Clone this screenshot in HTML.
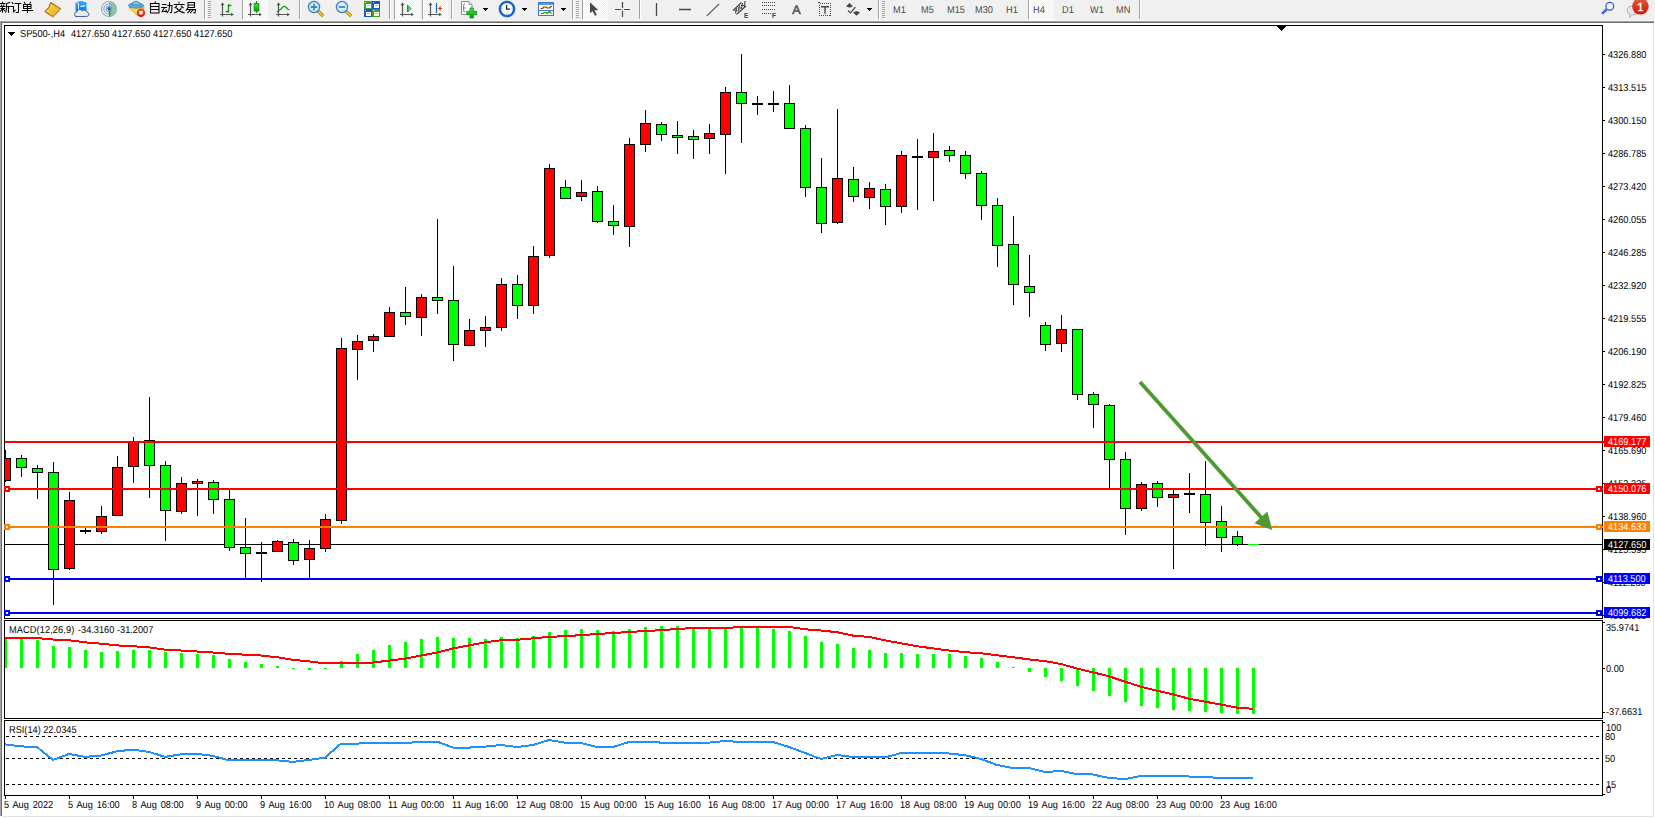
<!DOCTYPE html>
<html><head><meta charset="utf-8"><title>SP500-,H4</title>
<style>
html,body{margin:0;padding:0;background:#fff;}
body{width:1655px;height:818px;position:relative;overflow:hidden;font-family:"Liberation Sans",sans-serif;}
#chart{position:absolute;left:0;top:0;}
.t{position:absolute;font-size:10px;line-height:10px;height:10px;white-space:nowrap;margin-top:0px;transform:scaleX(0.92);transform-origin:0 0;text-rendering:geometricPrecision;}
.pb{position:absolute;left:1604px;width:46px;height:11px;}
#tb{position:absolute;left:0;top:0;width:1655px;height:20px;background:#f0f0f0;}
#tbsvg{position:absolute;left:0;top:0;}
.p{position:absolute;top:5px;font-size:9.5px;line-height:10px;color:#4c4c4c;white-space:nowrap;}
</style></head>
<body>
<svg id="chart" width="1655" height="818" viewBox="0 0 1655 818" shape-rendering="crispEdges">
<rect x="4" y="25" width="1599" height="1" fill="#000"/>
<rect x="4" y="25" width="1" height="594" fill="#000"/>
<rect x="1602" y="25" width="1" height="594" fill="#000"/>
<rect x="1602" y="620" width="1" height="99" fill="#000"/>
<rect x="1602" y="720" width="1" height="76" fill="#000"/>
<rect x="4" y="618" width="1599" height="1" fill="#000"/>
<rect x="4" y="620" width="1599" height="1" fill="#000"/>
<rect x="4" y="620" width="1" height="99" fill="#000"/>
<rect x="4" y="718" width="1599" height="1" fill="#000"/>
<rect x="4" y="720" width="1599" height="1" fill="#000"/>
<rect x="4" y="720" width="1" height="76" fill="#000"/>
<rect x="4" y="795" width="1599" height="1" fill="#000"/>
<rect x="1277" y="26" width="9" height="1" fill="#000"/>
<rect x="1278" y="27" width="7" height="1" fill="#000"/>
<rect x="1279" y="28" width="5" height="1" fill="#000"/>
<rect x="1280" y="29" width="3" height="1" fill="#000"/>
<rect x="1281" y="30" width="1" height="1" fill="#000"/>
<defs><clipPath id="cp"><rect x="5" y="26" width="1597" height="770"/></clipPath></defs><g clip-path="url(#cp)">
<rect x="8" y="32" width="7" height="1" fill="#000"/>
<rect x="9" y="33" width="5" height="1" fill="#000"/>
<rect x="10" y="34" width="3" height="1" fill="#000"/>
<rect x="11" y="35" width="1" height="1" fill="#000"/>
<rect x="5" y="544" width="1598" height="1" fill="#000"/>
<rect x="5" y="450" width="1" height="32" fill="#000"/>
<rect x="0" y="458" width="11" height="23" fill="#000"/>
<rect x="1" y="459" width="9" height="21" fill="#ff0000"/>
<rect x="21" y="455" width="1" height="22" fill="#000"/>
<rect x="16" y="458" width="11" height="10" fill="#000"/>
<rect x="17" y="459" width="9" height="8" fill="#00ff00"/>
<rect x="37" y="465" width="1" height="34" fill="#000"/>
<rect x="32" y="468" width="11" height="5" fill="#000"/>
<rect x="33" y="469" width="9" height="3" fill="#00ff00"/>
<rect x="53" y="462" width="1" height="143" fill="#000"/>
<rect x="48" y="472" width="11" height="98" fill="#000"/>
<rect x="49" y="473" width="9" height="96" fill="#00ff00"/>
<rect x="69" y="492" width="1" height="78" fill="#000"/>
<rect x="64" y="500" width="11" height="69" fill="#000"/>
<rect x="65" y="501" width="9" height="67" fill="#ff0000"/>
<rect x="85" y="528" width="1" height="6" fill="#000"/>
<rect x="80" y="530" width="11" height="2" fill="#000"/>
<rect x="101" y="506" width="1" height="28" fill="#000"/>
<rect x="96" y="516" width="11" height="16" fill="#000"/>
<rect x="97" y="517" width="9" height="14" fill="#ff0000"/>
<rect x="117" y="456" width="1" height="60" fill="#000"/>
<rect x="112" y="467" width="11" height="49" fill="#000"/>
<rect x="113" y="468" width="9" height="47" fill="#ff0000"/>
<rect x="133" y="437" width="1" height="46" fill="#000"/>
<rect x="128" y="441" width="11" height="26" fill="#000"/>
<rect x="129" y="442" width="9" height="24" fill="#ff0000"/>
<rect x="149" y="397" width="1" height="101" fill="#000"/>
<rect x="144" y="440" width="11" height="26" fill="#000"/>
<rect x="145" y="441" width="9" height="24" fill="#00ff00"/>
<rect x="165" y="461" width="1" height="80" fill="#000"/>
<rect x="160" y="465" width="11" height="46" fill="#000"/>
<rect x="161" y="466" width="9" height="44" fill="#00ff00"/>
<rect x="181" y="477" width="1" height="37" fill="#000"/>
<rect x="176" y="483" width="11" height="29" fill="#000"/>
<rect x="177" y="484" width="9" height="27" fill="#ff0000"/>
<rect x="197" y="479" width="1" height="37" fill="#000"/>
<rect x="192" y="481" width="11" height="3" fill="#000"/>
<rect x="193" y="482" width="9" height="1" fill="#ff0000"/>
<rect x="213" y="480" width="1" height="34" fill="#000"/>
<rect x="208" y="482" width="11" height="18" fill="#000"/>
<rect x="209" y="483" width="9" height="16" fill="#00ff00"/>
<rect x="229" y="490" width="1" height="61" fill="#000"/>
<rect x="224" y="499" width="11" height="49" fill="#000"/>
<rect x="225" y="500" width="9" height="47" fill="#00ff00"/>
<rect x="245" y="518" width="1" height="60" fill="#000"/>
<rect x="240" y="547" width="11" height="7" fill="#000"/>
<rect x="241" y="548" width="9" height="5" fill="#00ff00"/>
<rect x="261" y="542" width="1" height="40" fill="#000"/>
<rect x="256" y="552" width="11" height="2" fill="#000"/>
<rect x="277" y="540" width="1" height="12" fill="#000"/>
<rect x="272" y="541" width="11" height="11" fill="#000"/>
<rect x="273" y="542" width="9" height="9" fill="#ff0000"/>
<rect x="293" y="539" width="1" height="26" fill="#000"/>
<rect x="288" y="542" width="11" height="19" fill="#000"/>
<rect x="289" y="543" width="9" height="17" fill="#00ff00"/>
<rect x="309" y="540" width="1" height="38" fill="#000"/>
<rect x="304" y="548" width="11" height="12" fill="#000"/>
<rect x="305" y="549" width="9" height="10" fill="#ff0000"/>
<rect x="325" y="514" width="1" height="38" fill="#000"/>
<rect x="320" y="519" width="11" height="30" fill="#000"/>
<rect x="321" y="520" width="9" height="28" fill="#ff0000"/>
<rect x="341" y="338" width="1" height="186" fill="#000"/>
<rect x="336" y="348" width="11" height="173" fill="#000"/>
<rect x="337" y="349" width="9" height="171" fill="#ff0000"/>
<rect x="357" y="335" width="1" height="45" fill="#000"/>
<rect x="352" y="341" width="11" height="9" fill="#000"/>
<rect x="353" y="342" width="9" height="7" fill="#ff0000"/>
<rect x="373" y="334" width="1" height="18" fill="#000"/>
<rect x="368" y="336" width="11" height="5" fill="#000"/>
<rect x="369" y="337" width="9" height="3" fill="#ff0000"/>
<rect x="389" y="307" width="1" height="30" fill="#000"/>
<rect x="384" y="312" width="11" height="25" fill="#000"/>
<rect x="385" y="313" width="9" height="23" fill="#ff0000"/>
<rect x="405" y="287" width="1" height="38" fill="#000"/>
<rect x="400" y="312" width="11" height="5" fill="#000"/>
<rect x="401" y="313" width="9" height="3" fill="#00ff00"/>
<rect x="421" y="294" width="1" height="42" fill="#000"/>
<rect x="416" y="297" width="11" height="21" fill="#000"/>
<rect x="417" y="298" width="9" height="19" fill="#ff0000"/>
<rect x="437" y="219" width="1" height="95" fill="#000"/>
<rect x="432" y="297" width="11" height="4" fill="#000"/>
<rect x="433" y="298" width="9" height="2" fill="#00ff00"/>
<rect x="453" y="266" width="1" height="95" fill="#000"/>
<rect x="448" y="300" width="11" height="45" fill="#000"/>
<rect x="449" y="301" width="9" height="43" fill="#00ff00"/>
<rect x="469" y="319" width="1" height="27" fill="#000"/>
<rect x="464" y="330" width="11" height="16" fill="#000"/>
<rect x="465" y="331" width="9" height="14" fill="#ff0000"/>
<rect x="485" y="316" width="1" height="31" fill="#000"/>
<rect x="480" y="327" width="11" height="4" fill="#000"/>
<rect x="481" y="328" width="9" height="2" fill="#ff0000"/>
<rect x="501" y="278" width="1" height="53" fill="#000"/>
<rect x="496" y="284" width="11" height="44" fill="#000"/>
<rect x="497" y="285" width="9" height="42" fill="#ff0000"/>
<rect x="517" y="275" width="1" height="44" fill="#000"/>
<rect x="512" y="284" width="11" height="22" fill="#000"/>
<rect x="513" y="285" width="9" height="20" fill="#00ff00"/>
<rect x="533" y="246" width="1" height="68" fill="#000"/>
<rect x="528" y="256" width="11" height="50" fill="#000"/>
<rect x="529" y="257" width="9" height="48" fill="#ff0000"/>
<rect x="549" y="164" width="1" height="94" fill="#000"/>
<rect x="544" y="168" width="11" height="88" fill="#000"/>
<rect x="545" y="169" width="9" height="86" fill="#ff0000"/>
<rect x="565" y="180" width="1" height="19" fill="#000"/>
<rect x="560" y="187" width="11" height="12" fill="#000"/>
<rect x="561" y="188" width="9" height="10" fill="#00ff00"/>
<rect x="581" y="180" width="1" height="21" fill="#000"/>
<rect x="576" y="192" width="11" height="5" fill="#000"/>
<rect x="577" y="193" width="9" height="3" fill="#ff0000"/>
<rect x="597" y="186" width="1" height="37" fill="#000"/>
<rect x="592" y="191" width="11" height="31" fill="#000"/>
<rect x="593" y="192" width="9" height="29" fill="#00ff00"/>
<rect x="613" y="205" width="1" height="30" fill="#000"/>
<rect x="608" y="221" width="11" height="5" fill="#000"/>
<rect x="609" y="222" width="9" height="3" fill="#00ff00"/>
<rect x="629" y="138" width="1" height="109" fill="#000"/>
<rect x="624" y="144" width="11" height="83" fill="#000"/>
<rect x="625" y="145" width="9" height="81" fill="#ff0000"/>
<rect x="645" y="110" width="1" height="42" fill="#000"/>
<rect x="640" y="123" width="11" height="22" fill="#000"/>
<rect x="641" y="124" width="9" height="20" fill="#ff0000"/>
<rect x="661" y="122" width="1" height="19" fill="#000"/>
<rect x="656" y="124" width="11" height="11" fill="#000"/>
<rect x="657" y="125" width="9" height="9" fill="#00ff00"/>
<rect x="677" y="121" width="1" height="33" fill="#000"/>
<rect x="672" y="135" width="11" height="3" fill="#000"/>
<rect x="673" y="136" width="9" height="1" fill="#00ff00"/>
<rect x="693" y="130" width="1" height="29" fill="#000"/>
<rect x="688" y="136" width="11" height="4" fill="#000"/>
<rect x="689" y="137" width="9" height="2" fill="#00ff00"/>
<rect x="709" y="124" width="1" height="30" fill="#000"/>
<rect x="704" y="133" width="11" height="6" fill="#000"/>
<rect x="705" y="134" width="9" height="4" fill="#ff0000"/>
<rect x="725" y="87" width="1" height="87" fill="#000"/>
<rect x="720" y="92" width="11" height="43" fill="#000"/>
<rect x="721" y="93" width="9" height="41" fill="#ff0000"/>
<rect x="741" y="54" width="1" height="89" fill="#000"/>
<rect x="736" y="92" width="11" height="12" fill="#000"/>
<rect x="737" y="93" width="9" height="10" fill="#00ff00"/>
<rect x="757" y="96" width="1" height="19" fill="#000"/>
<rect x="752" y="103" width="11" height="2" fill="#000"/>
<rect x="773" y="91" width="1" height="21" fill="#000"/>
<rect x="768" y="103" width="11" height="2" fill="#000"/>
<rect x="789" y="85" width="1" height="44" fill="#000"/>
<rect x="784" y="103" width="11" height="26" fill="#000"/>
<rect x="785" y="104" width="9" height="24" fill="#00ff00"/>
<rect x="805" y="125" width="1" height="72" fill="#000"/>
<rect x="800" y="128" width="11" height="60" fill="#000"/>
<rect x="801" y="129" width="9" height="58" fill="#00ff00"/>
<rect x="821" y="158" width="1" height="75" fill="#000"/>
<rect x="816" y="187" width="11" height="37" fill="#000"/>
<rect x="817" y="188" width="9" height="35" fill="#00ff00"/>
<rect x="837" y="109" width="1" height="115" fill="#000"/>
<rect x="832" y="178" width="11" height="45" fill="#000"/>
<rect x="833" y="179" width="9" height="43" fill="#ff0000"/>
<rect x="853" y="167" width="1" height="35" fill="#000"/>
<rect x="848" y="179" width="11" height="18" fill="#000"/>
<rect x="849" y="180" width="9" height="16" fill="#00ff00"/>
<rect x="869" y="182" width="1" height="27" fill="#000"/>
<rect x="864" y="188" width="11" height="10" fill="#000"/>
<rect x="865" y="189" width="9" height="8" fill="#ff0000"/>
<rect x="885" y="184" width="1" height="41" fill="#000"/>
<rect x="880" y="189" width="11" height="18" fill="#000"/>
<rect x="881" y="190" width="9" height="16" fill="#00ff00"/>
<rect x="901" y="151" width="1" height="62" fill="#000"/>
<rect x="896" y="155" width="11" height="52" fill="#000"/>
<rect x="897" y="156" width="9" height="50" fill="#ff0000"/>
<rect x="917" y="139" width="1" height="71" fill="#000"/>
<rect x="912" y="156" width="11" height="2" fill="#000"/>
<rect x="933" y="133" width="1" height="68" fill="#000"/>
<rect x="928" y="151" width="11" height="7" fill="#000"/>
<rect x="929" y="152" width="9" height="5" fill="#ff0000"/>
<rect x="949" y="146" width="1" height="16" fill="#000"/>
<rect x="944" y="150" width="11" height="6" fill="#000"/>
<rect x="945" y="151" width="9" height="4" fill="#00ff00"/>
<rect x="965" y="151" width="1" height="28" fill="#000"/>
<rect x="960" y="155" width="11" height="19" fill="#000"/>
<rect x="961" y="156" width="9" height="17" fill="#00ff00"/>
<rect x="981" y="171" width="1" height="49" fill="#000"/>
<rect x="976" y="173" width="11" height="33" fill="#000"/>
<rect x="977" y="174" width="9" height="31" fill="#00ff00"/>
<rect x="997" y="198" width="1" height="69" fill="#000"/>
<rect x="992" y="205" width="11" height="41" fill="#000"/>
<rect x="993" y="206" width="9" height="39" fill="#00ff00"/>
<rect x="1013" y="216" width="1" height="89" fill="#000"/>
<rect x="1008" y="244" width="11" height="41" fill="#000"/>
<rect x="1009" y="245" width="9" height="39" fill="#00ff00"/>
<rect x="1029" y="255" width="1" height="62" fill="#000"/>
<rect x="1024" y="286" width="11" height="7" fill="#000"/>
<rect x="1025" y="287" width="9" height="5" fill="#00ff00"/>
<rect x="1045" y="322" width="1" height="29" fill="#000"/>
<rect x="1040" y="325" width="11" height="20" fill="#000"/>
<rect x="1041" y="326" width="9" height="18" fill="#00ff00"/>
<rect x="1061" y="315" width="1" height="37" fill="#000"/>
<rect x="1056" y="329" width="11" height="15" fill="#000"/>
<rect x="1057" y="330" width="9" height="13" fill="#ff0000"/>
<rect x="1077" y="329" width="1" height="71" fill="#000"/>
<rect x="1072" y="329" width="11" height="66" fill="#000"/>
<rect x="1073" y="330" width="9" height="64" fill="#00ff00"/>
<rect x="1093" y="392" width="1" height="36" fill="#000"/>
<rect x="1088" y="394" width="11" height="11" fill="#000"/>
<rect x="1089" y="395" width="9" height="9" fill="#00ff00"/>
<rect x="1109" y="404" width="1" height="84" fill="#000"/>
<rect x="1104" y="405" width="11" height="55" fill="#000"/>
<rect x="1105" y="406" width="9" height="53" fill="#00ff00"/>
<rect x="1125" y="452" width="1" height="83" fill="#000"/>
<rect x="1120" y="459" width="11" height="50" fill="#000"/>
<rect x="1121" y="460" width="9" height="48" fill="#00ff00"/>
<rect x="1141" y="482" width="1" height="29" fill="#000"/>
<rect x="1136" y="484" width="11" height="25" fill="#000"/>
<rect x="1137" y="485" width="9" height="23" fill="#ff0000"/>
<rect x="1157" y="481" width="1" height="26" fill="#000"/>
<rect x="1152" y="483" width="11" height="15" fill="#000"/>
<rect x="1153" y="484" width="9" height="13" fill="#00ff00"/>
<rect x="1173" y="490" width="1" height="79" fill="#000"/>
<rect x="1168" y="494" width="11" height="4" fill="#000"/>
<rect x="1169" y="495" width="9" height="2" fill="#ff0000"/>
<rect x="1189" y="473" width="1" height="40" fill="#000"/>
<rect x="1184" y="493" width="11" height="2" fill="#000"/>
<rect x="1205" y="461" width="1" height="85" fill="#000"/>
<rect x="1200" y="494" width="11" height="29" fill="#000"/>
<rect x="1201" y="495" width="9" height="27" fill="#00ff00"/>
<rect x="1221" y="506" width="1" height="46" fill="#000"/>
<rect x="1216" y="521" width="11" height="17" fill="#000"/>
<rect x="1217" y="522" width="9" height="15" fill="#00ff00"/>
<rect x="1237" y="531" width="1" height="15" fill="#000"/>
<rect x="1232" y="536" width="11" height="9" fill="#000"/>
<rect x="1233" y="537" width="9" height="7" fill="#00ff00"/>
<rect x="1248" y="544" width="11" height="1" fill="#00ff00"/>
</g>
<rect x="5" y="441" width="1599" height="2" fill="#ff0000"/>
<rect x="5" y="488" width="1598" height="2" fill="#ff0000"/>
<rect x="4" y="486" width="6" height="6" fill="#ff0000"/>
<rect x="6" y="488" width="2" height="2" fill="#fff"/>
<rect x="1596" y="486" width="6" height="6" fill="#ff0000"/>
<rect x="1598" y="488" width="2" height="2" fill="#fff"/>
<rect x="5" y="526" width="1598" height="2" fill="#ff8000"/>
<rect x="4" y="524" width="6" height="6" fill="#ff8000"/>
<rect x="6" y="526" width="2" height="2" fill="#fff"/>
<rect x="1596" y="524" width="6" height="6" fill="#ff8000"/>
<rect x="1598" y="526" width="2" height="2" fill="#fff"/>
<rect x="5" y="578" width="1598" height="2" fill="#0000ff"/>
<rect x="4" y="576" width="6" height="6" fill="#0000ff"/>
<rect x="6" y="578" width="2" height="2" fill="#fff"/>
<rect x="1596" y="576" width="6" height="6" fill="#0000ff"/>
<rect x="1598" y="578" width="2" height="2" fill="#fff"/>
<rect x="5" y="612" width="1598" height="2" fill="#0000ff"/>
<rect x="4" y="610" width="6" height="6" fill="#0000ff"/>
<rect x="6" y="612" width="2" height="2" fill="#fff"/>
<rect x="1596" y="610" width="6" height="6" fill="#0000ff"/>
<rect x="1598" y="612" width="2" height="2" fill="#fff"/>
<g shape-rendering="geometricPrecision"><line x1="1140" y1="382" x2="1262" y2="518.2" stroke="#4e9a30" stroke-width="3.8"/><polygon points="1272.3,530.1 1254.4,523.2 1267.4,511.4" fill="#4e9a30"/></g>
<rect x="1603" y="54" width="2" height="1" fill="#000"/>
<rect x="1603" y="87" width="2" height="1" fill="#000"/>
<rect x="1603" y="120" width="2" height="1" fill="#000"/>
<rect x="1603" y="153" width="2" height="1" fill="#000"/>
<rect x="1603" y="186" width="2" height="1" fill="#000"/>
<rect x="1603" y="219" width="2" height="1" fill="#000"/>
<rect x="1603" y="252" width="2" height="1" fill="#000"/>
<rect x="1603" y="285" width="2" height="1" fill="#000"/>
<rect x="1603" y="318" width="2" height="1" fill="#000"/>
<rect x="1603" y="351" width="2" height="1" fill="#000"/>
<rect x="1603" y="384" width="2" height="1" fill="#000"/>
<rect x="1603" y="417" width="2" height="1" fill="#000"/>
<rect x="1603" y="450" width="2" height="1" fill="#000"/>
<rect x="1603" y="483" width="2" height="1" fill="#000"/>
<rect x="1603" y="516" width="2" height="1" fill="#000"/>
<rect x="1603" y="549" width="2" height="1" fill="#000"/>
<rect x="1603" y="582" width="2" height="1" fill="#000"/>
<rect x="1603" y="615" width="2" height="1" fill="#000"/>
<g clip-path="url(#cp)">
<rect x="5" y="639" width="2" height="29" fill="#00ff00"/>
<rect x="20" y="639" width="3" height="29" fill="#00ff00"/>
<rect x="36" y="640" width="3" height="28" fill="#00ff00"/>
<rect x="52" y="646" width="3" height="22" fill="#00ff00"/>
<rect x="68" y="647" width="3" height="21" fill="#00ff00"/>
<rect x="84" y="650" width="3" height="18" fill="#00ff00"/>
<rect x="100" y="652" width="3" height="16" fill="#00ff00"/>
<rect x="116" y="651" width="3" height="17" fill="#00ff00"/>
<rect x="132" y="650" width="3" height="18" fill="#00ff00"/>
<rect x="148" y="650" width="3" height="18" fill="#00ff00"/>
<rect x="164" y="652" width="3" height="16" fill="#00ff00"/>
<rect x="180" y="653" width="3" height="15" fill="#00ff00"/>
<rect x="196" y="654" width="3" height="14" fill="#00ff00"/>
<rect x="212" y="655" width="3" height="13" fill="#00ff00"/>
<rect x="228" y="659" width="3" height="9" fill="#00ff00"/>
<rect x="244" y="662" width="3" height="6" fill="#00ff00"/>
<rect x="260" y="664" width="3" height="4" fill="#00ff00"/>
<rect x="276" y="666" width="3" height="2" fill="#00ff00"/>
<rect x="292" y="668" width="3" height="1" fill="#00ff00"/>
<rect x="308" y="668" width="3" height="2" fill="#00ff00"/>
<rect x="324" y="668" width="3" height="1" fill="#00ff00"/>
<rect x="340" y="661" width="3" height="7" fill="#00ff00"/>
<rect x="356" y="654" width="3" height="14" fill="#00ff00"/>
<rect x="372" y="650" width="3" height="18" fill="#00ff00"/>
<rect x="388" y="645" width="3" height="23" fill="#00ff00"/>
<rect x="404" y="642" width="3" height="26" fill="#00ff00"/>
<rect x="420" y="639" width="3" height="29" fill="#00ff00"/>
<rect x="436" y="637" width="3" height="31" fill="#00ff00"/>
<rect x="452" y="638" width="3" height="30" fill="#00ff00"/>
<rect x="468" y="638" width="3" height="30" fill="#00ff00"/>
<rect x="484" y="639" width="3" height="29" fill="#00ff00"/>
<rect x="500" y="637" width="3" height="31" fill="#00ff00"/>
<rect x="516" y="638" width="3" height="30" fill="#00ff00"/>
<rect x="532" y="636" width="3" height="32" fill="#00ff00"/>
<rect x="548" y="632" width="3" height="36" fill="#00ff00"/>
<rect x="564" y="630" width="3" height="38" fill="#00ff00"/>
<rect x="580" y="629" width="3" height="39" fill="#00ff00"/>
<rect x="596" y="630" width="3" height="38" fill="#00ff00"/>
<rect x="612" y="631" width="3" height="37" fill="#00ff00"/>
<rect x="628" y="629" width="3" height="39" fill="#00ff00"/>
<rect x="644" y="627" width="3" height="41" fill="#00ff00"/>
<rect x="660" y="626" width="3" height="42" fill="#00ff00"/>
<rect x="676" y="626" width="3" height="42" fill="#00ff00"/>
<rect x="692" y="627" width="3" height="41" fill="#00ff00"/>
<rect x="708" y="628" width="3" height="40" fill="#00ff00"/>
<rect x="724" y="628" width="3" height="40" fill="#00ff00"/>
<rect x="740" y="627" width="3" height="41" fill="#00ff00"/>
<rect x="756" y="627" width="3" height="41" fill="#00ff00"/>
<rect x="772" y="629" width="3" height="39" fill="#00ff00"/>
<rect x="788" y="631" width="3" height="37" fill="#00ff00"/>
<rect x="804" y="636" width="3" height="32" fill="#00ff00"/>
<rect x="820" y="642" width="3" height="26" fill="#00ff00"/>
<rect x="836" y="644" width="3" height="24" fill="#00ff00"/>
<rect x="852" y="648" width="3" height="20" fill="#00ff00"/>
<rect x="868" y="650" width="3" height="18" fill="#00ff00"/>
<rect x="884" y="653" width="3" height="15" fill="#00ff00"/>
<rect x="900" y="653" width="3" height="15" fill="#00ff00"/>
<rect x="916" y="654" width="3" height="14" fill="#00ff00"/>
<rect x="932" y="654" width="3" height="14" fill="#00ff00"/>
<rect x="948" y="654" width="3" height="14" fill="#00ff00"/>
<rect x="964" y="656" width="3" height="12" fill="#00ff00"/>
<rect x="980" y="658" width="3" height="10" fill="#00ff00"/>
<rect x="996" y="662" width="3" height="6" fill="#00ff00"/>
<rect x="1012" y="667" width="3" height="1" fill="#00ff00"/>
<rect x="1028" y="668" width="3" height="4" fill="#00ff00"/>
<rect x="1044" y="668" width="3" height="9" fill="#00ff00"/>
<rect x="1060" y="668" width="3" height="13" fill="#00ff00"/>
<rect x="1076" y="668" width="3" height="18" fill="#00ff00"/>
<rect x="1092" y="668" width="3" height="23" fill="#00ff00"/>
<rect x="1108" y="668" width="3" height="28" fill="#00ff00"/>
<rect x="1124" y="668" width="3" height="34" fill="#00ff00"/>
<rect x="1140" y="668" width="3" height="38" fill="#00ff00"/>
<rect x="1156" y="668" width="3" height="40" fill="#00ff00"/>
<rect x="1172" y="668" width="3" height="42" fill="#00ff00"/>
<rect x="1188" y="668" width="3" height="43" fill="#00ff00"/>
<rect x="1204" y="668" width="3" height="44" fill="#00ff00"/>
<rect x="1220" y="668" width="3" height="45" fill="#00ff00"/>
<rect x="1236" y="668" width="3" height="46" fill="#00ff00"/>
<rect x="1252" y="668" width="3" height="46" fill="#00ff00"/>
<polyline points="5,638 37,638 53,639.5 69,640.3 85,642.3 101,643.7 117,645.4 133,646.2 149,647.4 165,649.6 181,650.5 197,651.5 213,652.5 229,653.8 245,654.7 261,655.5 277,657.2 293,659.8 309,661.4 320,662.8 371,662.8 389,660.6 405,658.6 421,655.5 437,652.6 453,648.4 469,645.4 485,642.3 501,640.3 517,639.8 533,638.3 549,636.9 565,636.1 581,635.2 597,634 613,633 629,632 645,631 661,630.2 677,629 693,628 725,628 741,627 789,627 797,628 805,629.3 821,630.5 837,632.2 853,635.6 869,636.9 885,640.3 901,643.3 917,646.2 933,648.4 949,650.5 965,652.1 981,653.3 997,655.2 1013,657.2 1029,659.4 1045,661.1 1061,664 1077,668.5 1093,672.4 1109,676.3 1125,681.7 1141,686.8 1157,690.7 1173,694.4 1189,698.7 1205,701.7 1221,704.6 1237,707.6 1253,708.8" fill="none" stroke="#ff0000" stroke-width="2" shape-rendering="crispEdges"/>
<rect x="1603" y="622" width="2" height="1" fill="#000"/>
<rect x="1603" y="668" width="2" height="1" fill="#000"/>
<rect x="1603" y="712" width="2" height="1" fill="#000"/>
<line x1="6" y1="736.5" x2="1600" y2="736.5" stroke="#000" stroke-width="1" stroke-dasharray="3 3"/>
<line x1="6" y1="758.5" x2="1600" y2="758.5" stroke="#000" stroke-width="1" stroke-dasharray="3 3"/>
<line x1="6" y1="784.5" x2="1600" y2="784.5" stroke="#000" stroke-width="1" stroke-dasharray="3 3"/>
<polyline points="5,744.4 21,746.4 37,747 53,759.9 69,753.9 85,756.9 101,755.5 117,751.3 133,749.6 149,751.9 165,756.9 181,754.3 197,753.9 213,755.9 229,760.3 245,760.3 261,760.3 277,760.3 293,761.9 309,759.9 325,757.7 341,743.6 357,743.6 373,743 389,742.6 405,742.6 421,742.4 437,741.6 453,747.6 469,747.6 485,746.6 501,745 517,747 533,745 549,740 565,742.6 581,743 597,747 613,747 629,742 645,741.6 661,742.6 677,742.6 693,742.6 709,742.6 725,741 741,742 757,742 773,742 789,747 805,753 821,759 837,755 853,757 869,757 885,757.5 901,753 917,753 933,753 949,753.5 965,755.2 981,759 997,765 1013,768 1029,768 1045,772 1061,771 1077,774 1093,774.5 1109,778 1125,779 1141,776 1157,776 1173,776 1189,776.5 1205,777 1221,778 1237,778 1253,778" fill="none" stroke="#1e90ff" stroke-width="2" shape-rendering="crispEdges"/>
</g>
<rect x="1603" y="722" width="2" height="1" fill="#000"/>
<rect x="1603" y="794" width="2" height="1" fill="#000"/>
<rect x="1603" y="622" width="2" height="1" fill="#000"/>
<rect x="1603" y="668" width="2" height="1" fill="#000"/>
<rect x="1603" y="712" width="2" height="1" fill="#000"/>
<rect x="0" y="21" width="1" height="795" fill="#a4a4a4"/>
<rect x="1" y="22" width="1" height="794" fill="#6c6c6c"/>
<rect x="2" y="816" width="1652" height="1" fill="#e3e3e3"/>
<rect x="1653" y="23" width="1" height="794" fill="#e3e3e3"/>
<rect x="5" y="796" width="1" height="3" fill="#000"/>
<rect x="69" y="796" width="1" height="3" fill="#000"/>
<rect x="133" y="796" width="1" height="3" fill="#000"/>
<rect x="197" y="796" width="1" height="3" fill="#000"/>
<rect x="261" y="796" width="1" height="3" fill="#000"/>
<rect x="325" y="796" width="1" height="3" fill="#000"/>
<rect x="389" y="796" width="1" height="3" fill="#000"/>
<rect x="453" y="796" width="1" height="3" fill="#000"/>
<rect x="517" y="796" width="1" height="3" fill="#000"/>
<rect x="581" y="796" width="1" height="3" fill="#000"/>
<rect x="645" y="796" width="1" height="3" fill="#000"/>
<rect x="709" y="796" width="1" height="3" fill="#000"/>
<rect x="773" y="796" width="1" height="3" fill="#000"/>
<rect x="837" y="796" width="1" height="3" fill="#000"/>
<rect x="901" y="796" width="1" height="3" fill="#000"/>
<rect x="965" y="796" width="1" height="3" fill="#000"/>
<rect x="1029" y="796" width="1" height="3" fill="#000"/>
<rect x="1093" y="796" width="1" height="3" fill="#000"/>
<rect x="1157" y="796" width="1" height="3" fill="#000"/>
<rect x="1221" y="796" width="1" height="3" fill="#000"/>
</svg>
<div class="t" style="left:1608px;top:51px;color:#000;">4326.880</div>
<div class="t" style="left:1608px;top:84px;color:#000;">4313.515</div>
<div class="t" style="left:1608px;top:117px;color:#000;">4300.150</div>
<div class="t" style="left:1608px;top:150px;color:#000;">4286.785</div>
<div class="t" style="left:1608px;top:183px;color:#000;">4273.420</div>
<div class="t" style="left:1608px;top:216px;color:#000;">4260.055</div>
<div class="t" style="left:1608px;top:249px;color:#000;">4246.285</div>
<div class="t" style="left:1608px;top:282px;color:#000;">4232.920</div>
<div class="t" style="left:1608px;top:315px;color:#000;">4219.555</div>
<div class="t" style="left:1608px;top:348px;color:#000;">4206.190</div>
<div class="t" style="left:1608px;top:381px;color:#000;">4192.825</div>
<div class="t" style="left:1608px;top:414px;color:#000;">4179.460</div>
<div class="t" style="left:1608px;top:447px;color:#000;">4165.690</div>
<div class="t" style="left:1608px;top:480px;color:#000;">4152.325</div>
<div class="t" style="left:1608px;top:513px;color:#000;">4138.960</div>
<div class="t" style="left:1608px;top:546px;color:#000;">4125.595</div>
<div class="t" style="left:1608px;top:579px;color:#000;">4112.230</div>
<div class="t" style="left:1608px;top:612px;color:#000;">4098.865</div>
<div class="pb" style="top:436px;background:#ff0000"></div>
<div class="t" style="left:1608px;top:438px;color:#fff;">4169.177</div>
<div class="pb" style="top:483px;background:#ff0000"></div>
<div class="t" style="left:1608px;top:485px;color:#fff;">4150.076</div>
<div class="pb" style="top:521px;background:#ff8000"></div>
<div class="t" style="left:1608px;top:523px;color:#fff;">4134.633</div>
<div class="pb" style="top:539px;background:#000000"></div>
<div class="t" style="left:1608px;top:541px;color:#fff;">4127.650</div>
<div class="pb" style="top:573px;background:#0000ff"></div>
<div class="t" style="left:1608px;top:575px;color:#fff;">4113.500</div>
<div class="pb" style="top:607px;background:#0000ff"></div>
<div class="t" style="left:1608px;top:609px;color:#fff;">4099.682</div>
<div class="t" style="left:1606px;top:624px;color:#000;">35.9741</div>
<div class="t" style="left:1606px;top:665px;color:#000;">0.00</div>
<div class="t" style="left:1606px;top:708px;color:#000;">-37.6631</div>
<div class="t" style="left:1606px;top:724px;color:#000;">100</div>
<div class="t" style="left:1605px;top:733px;color:#000;">80</div>
<div class="t" style="left:1605px;top:755px;color:#000;">50</div>
<div class="t" style="left:1606px;top:781px;color:#000;">15</div>
<div class="t" style="left:1606px;top:786px;color:#000;">0</div>
<div class="t" style="left:20px;top:30px;color:#000;">SP500-,H4</div>
<div class="t" style="left:71px;top:30px;color:#000;word-spacing:0.1px;">4127.650 4127.650 4127.650 4127.650</div>
<div class="t" style="left:9px;top:626px;color:#000;letter-spacing:0.12px;">MACD(12,26,9)</div>
<div class="t" style="left:78px;top:626px;color:#000;">-34.3160</div>
<div class="t" style="left:117px;top:626px;color:#000;">-31.2007</div>
<div class="t" style="left:9px;top:726px;color:#000;">RSI(14) 22.0345</div>
<div class="t" style="left:4px;top:801px;color:#000;word-spacing:1.4px;">5 Aug 2022</div>
<div class="t" style="left:68px;top:801px;color:#000;word-spacing:1.4px;">5 Aug 16:00</div>
<div class="t" style="left:132px;top:801px;color:#000;word-spacing:1.4px;">8 Aug 08:00</div>
<div class="t" style="left:196px;top:801px;color:#000;word-spacing:1.4px;">9 Aug 00:00</div>
<div class="t" style="left:260px;top:801px;color:#000;word-spacing:1.4px;">9 Aug 16:00</div>
<div class="t" style="left:324px;top:801px;color:#000;word-spacing:1.4px;">10 Aug 08:00</div>
<div class="t" style="left:388px;top:801px;color:#000;word-spacing:1.4px;">11 Aug 00:00</div>
<div class="t" style="left:452px;top:801px;color:#000;word-spacing:1.4px;">11 Aug 16:00</div>
<div class="t" style="left:516px;top:801px;color:#000;word-spacing:1.4px;">12 Aug 08:00</div>
<div class="t" style="left:580px;top:801px;color:#000;word-spacing:1.4px;">15 Aug 00:00</div>
<div class="t" style="left:644px;top:801px;color:#000;word-spacing:1.4px;">15 Aug 16:00</div>
<div class="t" style="left:708px;top:801px;color:#000;word-spacing:1.4px;">16 Aug 08:00</div>
<div class="t" style="left:772px;top:801px;color:#000;word-spacing:1.4px;">17 Aug 00:00</div>
<div class="t" style="left:836px;top:801px;color:#000;word-spacing:1.4px;">17 Aug 16:00</div>
<div class="t" style="left:900px;top:801px;color:#000;word-spacing:1.4px;">18 Aug 08:00</div>
<div class="t" style="left:964px;top:801px;color:#000;word-spacing:1.4px;">19 Aug 00:00</div>
<div class="t" style="left:1028px;top:801px;color:#000;word-spacing:1.4px;">19 Aug 16:00</div>
<div class="t" style="left:1092px;top:801px;color:#000;word-spacing:1.4px;">22 Aug 08:00</div>
<div class="t" style="left:1156px;top:801px;color:#000;word-spacing:1.4px;">23 Aug 00:00</div>
<div class="t" style="left:1220px;top:801px;color:#000;word-spacing:1.4px;">23 Aug 16:00</div>
<div id="tb"><div style="position:absolute;left:0;top:20px;width:1655px;height:1px;background:#f6f6f6"></div><div style="position:absolute;left:0;top:21px;width:1654px;height:1px;background:#a4a4a4"></div><div style="position:absolute;left:1px;top:22px;width:1653px;height:1px;background:#6c6c6c"></div><svg id="tbsvg" width="1655" height="20" viewBox="0 0 1655 20" shape-rendering="crispEdges"><defs><pattern id="chk" width="2" height="2" patternUnits="userSpaceOnUse"><rect width="2" height="2" fill="#f0f0f0"/><rect width="1" height="1" fill="#fff"/><rect x="1" y="1" width="1" height="1" fill="#fff"/></pattern><linearGradient id="gy" x1="0" y1="0" x2="1" y2="1"><stop offset="0" stop-color="#ffe45a"/><stop offset="1" stop-color="#e0a010"/></linearGradient><linearGradient id="gb" x1="0" y1="0" x2="0" y2="1"><stop offset="0" stop-color="#38a8ff"/><stop offset="1" stop-color="#0a78e8"/></linearGradient><linearGradient id="gr" x1="0" y1="0" x2="0" y2="1"><stop offset="0" stop-color="#ea5a3a"/><stop offset="1" stop-color="#d41400"/></linearGradient><linearGradient id="gg" x1="0" y1="0" x2="0" y2="1"><stop offset="0" stop-color="#50e050"/><stop offset="1" stop-color="#009800"/></linearGradient><radialGradient id="rg" cx="0.5" cy="0.5" r="0.5"><stop offset="0" stop-color="#fff"/><stop offset="1" stop-color="#b8dcf4"/></radialGradient></defs><g stroke="#000" stroke-width="1.05" fill="none" shape-rendering="geometricPrecision" stroke-linecap="butt"><path d="M2.5 1.8v1.500M0 3.500h5.300M1.300 4.400l.6 1.700M4.200 4.400l-.6 1.700M0 6.500h5.600M.4 8.500h4.800M2.500 6.500v6.300M2.400 9l-2.400 2.600M3 9l2.200 2.200"/><path d="M10.200 2.200l-3.700 1.300v4.500q0 3-1.200 4.800M6.500 6.500h4.300M8.500 6.500v6.300"/><path d="M11.800 2.200l1.400 1.600M11 6.500h2.500v5.200l2-1.900M14.500 3.500h6.800M18.500 3.500v8.600q0 .7-2.800 .3"/><path d="M24 1.800l1.200 1.900M30.800 1.800l-1.200 1.900M23.500 4.500h7.500v4h-7.500zM23.500 6.500h7.500M27.500 4.500v8.500M22 10.500h11"/></g><g shape-rendering="geometricPrecision"><path d="M50.800 2.600l9.600 6.200-7.400 7.800-8-5.200 3.800-3.800z" fill="url(#gy)" stroke="#b07a14" stroke-width="1.300" stroke-linejoin="round"/><path d="M45.500 12.200l7.500 4.600 7.300-7.700" fill="none" stroke="#c89a30" stroke-width="1.200"/><path d="M46.400 10.400l7 4.300 5.600-6" fill="none" stroke="#ffe878" stroke-width=".8" opacity=".7"/></g><g shape-rendering="geometricPrecision"><path d="M75.5 2l6-1 5 1.5v9h-11z" fill="url(#gb)"/><path d="M75.5 2l3 1.5v8" stroke="#fff" stroke-width=".8" fill="none"/><path d="M80.5 6.5l4.5-.8" stroke="#fff" stroke-width="1.2"/><path d="M75 16.5h11.5q2.5 0 2.5-2.2 0-2-2.2-2.2-.3-2-2.3-2-1.200 0-2 .9-1-1.600-2.800-1.600-2.500 0-2.900 2.600-2.300.2-2.300 2.300 0 2.200 2.500 2.200z" fill="#e6ecf6" stroke="#4a66a0" stroke-width="1"/></g><g shape-rendering="geometricPrecision" fill="none"><path d="M109 9V1.400A7.600 7.600 0 0 1 109 16.600z" fill="#6ab86a" opacity=".45"/><circle cx="109" cy="9" r="7.500" stroke="#88a4d0" stroke-width="1.100" opacity=".85"/><circle cx="109" cy="9" r="5.200" stroke="#6f93d4" stroke-width="1" opacity=".8"/><circle cx="109" cy="9" r="3" stroke="#5580d4" stroke-width="1" opacity=".8"/><path d="M109 9V1.400A7.600 7.600 0 0 1 109 16.600z" fill="#6ab86a" opacity=".3"/><circle cx="109" cy="8.800" r="1.700" fill="#2a50c8"/><path d="M109.600 9v7.500" stroke="#18a018" stroke-width="1.400"/></g><g shape-rendering="geometricPrecision"><path d="M129 7.500l8.500 8 5-4 1.500-5z" fill="#f6d84a" stroke="#c89818" stroke-width=".8"/><ellipse cx="136" cy="5.500" rx="7.600" ry="2.600" fill="#5fb0e0" stroke="#2a80a8" stroke-width=".8"/><path d="M131.800 5.200q.5-4 4.200-4t4.200 4z" fill="#7cc4ec" stroke="#2a80a8" stroke-width=".8"/><circle cx="141" cy="12.700" r="4.200" fill="url(#gr)"/><rect x="139.300" y="11" width="3.400" height="3.400" fill="#fff"/></g><g stroke="#000" stroke-width="1.05" fill="none" shape-rendering="geometricPrecision"><path d="M155.600 1.500l-1 2M150.500 3.500h8.500v9.500h-8.500zM150.500 6.500h8.500M150.500 9.500h8.500"/><path d="M162 4.500h4.500M161.300 7.500h5.800M164.300 7.700l-2.200 4 4.600-.5M165.600 9.600l1.400 2.600M167.300 5.500h4.700l-.3 6.300q0 1.200-1.800 .7M169.500 2v4.200q0 4-2.300 6.600"/><path d="M179 1.800v1.800M173.600 4.500h11.100M177 5.600l-2.300 2.600M181 5.600l2.600 2.600M181.600 7.600q-2 3.900-7.600 5.500M176.400 7.600q2.400 3.900 8.300 5.500"/><path d="M188 2.500h6.500v5h-6.500zM188 5h6.500M188 8l-2.200 2.700M187.300 9.500h8.200l-.5 3.500-1.700-.3M190.600 9.700l-3.200 3.500M193.200 9.700l-3 3.500"/></g><rect x="204" y="0" width="1" height="19" fill="#a0a0a0"/><rect x="205" y="0" width="1" height="19" fill="#fff"/><rect x="208" y="1" width="3" height="1" fill="#a8a8a8"/><rect x="208" y="3" width="3" height="1" fill="#a8a8a8"/><rect x="208" y="5" width="3" height="1" fill="#a8a8a8"/><rect x="208" y="7" width="3" height="1" fill="#a8a8a8"/><rect x="208" y="9" width="3" height="1" fill="#a8a8a8"/><rect x="208" y="11" width="3" height="1" fill="#a8a8a8"/><rect x="208" y="13" width="3" height="1" fill="#a8a8a8"/><rect x="208" y="15" width="3" height="1" fill="#a8a8a8"/><rect x="208" y="17" width="3" height="1" fill="#a8a8a8"/><g shape-rendering="geometricPrecision"><path d="M222.5 16.6V3.5M220 14.5H232" stroke="#555" stroke-width="1.2" fill="none"/><path d="M222.5 2.3l-1.9 3h3.800zM233.9 14.5l-2.800-1.800v3.600z" fill="#555"/></g><path d="M228.500 4v8.700M228.500 5.500h2.800M225.800 11.500h2.700" stroke="#089808" stroke-width="1.300" fill="none" shape-rendering="geometricPrecision"/><rect x="242" y="0" width="1" height="19" fill="#a0a0a0"/><rect x="243" y="0" width="1" height="19" fill="#fff"/><rect x="244" y="0" width="24" height="19" fill="url(#chk)"/><rect x="244" y="19" width="24" height="1" fill="#fff"/><g shape-rendering="geometricPrecision"><path d="M250.5 16.6V3.5M248 14.5H260" stroke="#555" stroke-width="1.2" fill="none"/><path d="M250.5 2.3l-1.9 3h3.800zM261.9 14.5l-2.800-1.800v3.600z" fill="#555"/></g><g shape-rendering="geometricPrecision"><path d="M256.500 1v12.200" stroke="#089808" stroke-width="1.300"/><rect x="254.200" y="3.600" width="4.600" height="7.400" fill="url(#gg)" stroke="#089808" stroke-width="1"/></g><g shape-rendering="geometricPrecision"><path d="M278.5 16.6V3.5M276 14.5H288" stroke="#555" stroke-width="1.2" fill="none"/><path d="M278.5 2.3l-1.9 3h3.800zM289.9 14.5l-2.800-1.800v3.600z" fill="#555"/></g><path d="M277 11.800q4.500-3 6-5 1-1 2.500 0l2.500 2.400 1.500.6" stroke="#089808" stroke-width="1.200" fill="none" shape-rendering="geometricPrecision"/><rect x="299" y="0" width="1" height="19" fill="#a0a0a0"/><rect x="300" y="0" width="1" height="19" fill="#fff"/><g shape-rendering="geometricPrecision"><path d="M318 11.200l5.200 5" stroke="#a87808" stroke-width="3.200"/><path d="M318.2 11.400l4.800 4.600" stroke="#f0d030" stroke-width="1.600"/><circle cx="314" cy="7" r="5.600" fill="url(#rg)" stroke="#3a80c8" stroke-width="1.200"/><path d="M310.8 7h6.400M314 3.800v6.400" stroke="#4088b0" stroke-width="1.800"/></g><g shape-rendering="geometricPrecision"><path d="M346 11.200l5.200 5" stroke="#a87808" stroke-width="3.200"/><path d="M346.2 11.400l4.800 4.600" stroke="#f0d030" stroke-width="1.600"/><circle cx="342" cy="7" r="5.600" fill="url(#rg)" stroke="#3a80c8" stroke-width="1.200"/><path d="M338.8 7h6.400" stroke="#4088b0" stroke-width="1.800"/></g><rect x="364" y="1" width="8" height="8" fill="#40a020"/><rect x="365.5" y="4" width="5" height="3.500" fill="#fff"/><rect x="366.5" y="5.2" width="3" height="1" fill="#a0d890"/><rect x="365" y="2" width="1" height="1" fill="#fff" opacity=".8"/><rect x="372" y="1" width="8" height="8" fill="#2050d0"/><rect x="373.5" y="4" width="5" height="3.500" fill="#fff"/><rect x="374.5" y="5.2" width="3" height="1" fill="#98b0f0"/><rect x="373" y="2" width="1" height="1" fill="#fff" opacity=".8"/><rect x="364" y="9" width="8" height="8" fill="#2050d0"/><rect x="365.5" y="12" width="5" height="3.500" fill="#fff"/><rect x="366.5" y="13.2" width="3" height="1" fill="#98b0f0"/><rect x="365" y="10" width="1" height="1" fill="#fff" opacity=".8"/><rect x="372" y="9" width="8" height="8" fill="#40a020"/><rect x="373.5" y="12" width="5" height="3.500" fill="#fff"/><rect x="374.5" y="13.2" width="3" height="1" fill="#a0d890"/><rect x="373" y="10" width="1" height="1" fill="#fff" opacity=".8"/><rect x="389" y="0" width="1" height="19" fill="#a0a0a0"/><rect x="390" y="0" width="1" height="19" fill="#fff"/><rect x="394" y="0" width="1" height="19" fill="#a0a0a0"/><rect x="395" y="0" width="1" height="19" fill="#fff"/><rect x="396" y="0" width="24" height="19" fill="url(#chk)"/><rect x="396" y="19" width="24" height="1" fill="#fff"/><g shape-rendering="geometricPrecision"><path d="M402.5 16.6V3.5M400 14.5H412" stroke="#555" stroke-width="1.2" fill="none"/><path d="M402.5 2.3l-1.9 3h3.800zM413.9 14.5l-2.800-1.800v3.600z" fill="#555"/></g><path d="M407.600 5.200v6.800l3.300-3.400z" fill="#70d070" stroke="#089808" stroke-width="1" shape-rendering="geometricPrecision"/><rect x="422" y="0" width="1" height="19" fill="#a0a0a0"/><rect x="423" y="0" width="1" height="19" fill="#fff"/><rect x="424" y="0" width="24" height="19" fill="url(#chk)"/><rect x="424" y="19" width="24" height="1" fill="#fff"/><g shape-rendering="geometricPrecision"><path d="M430.5 16.6V3.5M428 14.5H440" stroke="#555" stroke-width="1.2" fill="none"/><path d="M430.5 2.3l-1.9 3h3.800zM441.9 14.5l-2.800-1.800v3.600z" fill="#555"/></g><g shape-rendering="geometricPrecision"><path d="M436.500 3v10" stroke="#1870a8" stroke-width="1.300"/><path d="M437.800 8.500l3.400-2.400-.8 2.400.8 2.400z" fill="#e04800"/><path d="M439 8.500h3.200" stroke="#e04800" stroke-width="1"/></g><rect x="451" y="0" width="1" height="19" fill="#a0a0a0"/><rect x="452" y="0" width="1" height="19" fill="#fff"/><g shape-rendering="geometricPrecision"><path d="M461.500 1.500h7.500l3 3v10h-10.500z" fill="#fff" stroke="#8a8a8a" stroke-width="1"/><path d="M469 1.500v3h3" fill="#e8e8e8" stroke="#8a8a8a" stroke-width=".8"/><path d="M465 4q-1.400 0-1.400 1.500v5q0 1.500 1.400 1.500M464 8h1.600" stroke="#707060" stroke-width=".9" fill="none"/><path d="M470 8h3.400v3.300h3.300v3.400h-3.300v3.300h-3.400v-3.300h-3.300v-3.400h3.300z" fill="url(#gg)" stroke="#089808" stroke-width=".8"/></g><path d="M482.7 8h5.6l-2.8 3z" fill="#000"/><g shape-rendering="geometricPrecision"><circle cx="507" cy="9" r="7" fill="#fff" stroke="#1868d0" stroke-width="2.200"/><circle cx="507" cy="9" r="8" fill="none" stroke="#0a50b0" stroke-width=".6"/><path d="M506.600 5v4.200h3.200" stroke="#202020" stroke-width="1.200" fill="none"/><path d="M507 3.200v1M507 13.800v1M501.400 9h1M511.600 9h1" stroke="#888" stroke-width=".8"/></g><path d="M521.7 8h5.6l-2.8 3z" fill="#000"/><g shape-rendering="geometricPrecision"><rect x="538.500" y="2.500" width="15" height="13" fill="#fff" stroke="#3a78c8" stroke-width="1"/><rect x="539" y="3" width="14" height="2" fill="#5a9ae0"/><path d="M539 10.500h14" stroke="#3a78c8" stroke-width="1"/><path d="M540.500 8.500h2l1.500-1.500h2l1 1h2.500l1.500-1.500h1" stroke="#a02808" stroke-width="1.200" fill="none"/><path d="M541 13.500h2l1.500-1h1.500l1.500 1 2-2.200 2 2.200" stroke="#089808" stroke-width="1.200" fill="none"/></g><path d="M560.7 8h5.6l-2.8 3z" fill="#000"/><rect x="572" y="0" width="1" height="19" fill="#a0a0a0"/><rect x="573" y="0" width="1" height="19" fill="#fff"/><rect x="576" y="1" width="3" height="1" fill="#a8a8a8"/><rect x="576" y="3" width="3" height="1" fill="#a8a8a8"/><rect x="576" y="5" width="3" height="1" fill="#a8a8a8"/><rect x="576" y="7" width="3" height="1" fill="#a8a8a8"/><rect x="576" y="9" width="3" height="1" fill="#a8a8a8"/><rect x="576" y="11" width="3" height="1" fill="#a8a8a8"/><rect x="576" y="13" width="3" height="1" fill="#a8a8a8"/><rect x="576" y="15" width="3" height="1" fill="#a8a8a8"/><rect x="576" y="17" width="3" height="1" fill="#a8a8a8"/><rect x="582" y="0" width="1" height="19" fill="#a0a0a0"/><rect x="583" y="0" width="1" height="19" fill="#fff"/><rect x="584" y="0" width="24" height="19" fill="url(#chk)"/><rect x="584" y="19" width="24" height="1" fill="#fff"/><path d="M590 2.200v11l2.600-2.200 2.300 4.800 1.900-.9-2.300-4.700 3.700-.3z" fill="#484848" shape-rendering="geometricPrecision"/><path d="M622.500 2v6M622.500 11v6M615 9.500h6M624 9.500h6" stroke="#484848" stroke-width="1.200" shape-rendering="geometricPrecision"/><rect x="622" y="9" width="1" height="1" fill="#808080"/><rect x="639" y="0" width="1" height="19" fill="#a0a0a0"/><rect x="640" y="0" width="1" height="19" fill="#fff"/><g stroke="#484848" stroke-width="1.300" fill="none" shape-rendering="geometricPrecision"><path d="M656.500 3v13M679 9.500h12"/><path d="M706.800 15.800l12.300-12" stroke-width="1.050"/></g><g stroke="#484848" fill="none" shape-rendering="geometricPrecision"><path d="M733 10.500l8.500-8M736.500 14.500l9.500-8.500" stroke-width="1.150"/><path d="M735.500 13.500l1-5.500M738.500 11.500l1-6M741.500 9l1-6M744.500 7l.5-6" stroke-width="1.150"/><path d="M734.500 10.500h3M738 8h3M741 5.500h3" stroke-width="1"/></g><text x="744" y="17.500" font-size="6.500" font-weight="bold" fill="#404040" font-family="Liberation Sans, sans-serif">E</text><path d="M762 2.5h13" stroke="#484848" stroke-width="1" stroke-dasharray="1 1" shape-rendering="crispEdges"/><path d="M762 5.5h13" stroke="#484848" stroke-width="1" stroke-dasharray="1 1" shape-rendering="crispEdges"/><path d="M762 9.5h13" stroke="#484848" stroke-width="1" stroke-dasharray="1 1" shape-rendering="crispEdges"/><path d="M762 13.5h9" stroke="#484848" stroke-width="1" stroke-dasharray="1 1" shape-rendering="crispEdges"/><text x="772" y="17.500" font-size="6.500" font-weight="bold" fill="#404040" font-family="Liberation Sans, sans-serif">F</text><text x="792.300" y="14" font-size="12.500" stroke="#505050" stroke-width=".55" fill="#505050" font-family="Liberation Sans, sans-serif" text-rendering="geometricPrecision">A</text><rect x="819.500" y="3.500" width="11" height="12" fill="none" stroke="#484848" stroke-width="1" stroke-dasharray="1 1" shape-rendering="crispEdges"/><rect x="818" y="2" width="2" height="1" fill="#484848"/><path d="M821 6.700h8M825 6.700v7" stroke="#484848" stroke-width="1.400" fill="none" shape-rendering="geometricPrecision"/><g fill="#484848" shape-rendering="geometricPrecision"><path d="M849.500 3l3.500 3.200-3.500 1.500-3.500-1.500z"/><path d="M856.500 15.700l-3.500-3.200 3.500-1.500 3.500 1.500z"/><path d="M848 10.500l2.400 2.400 5-5.800" stroke="#484848" stroke-width="1.200" fill="none"/></g><path d="M866.7 8h5.6l-2.8 3z" fill="#000"/><rect x="878" y="0" width="1" height="19" fill="#a0a0a0"/><rect x="879" y="0" width="1" height="19" fill="#fff"/><rect x="882" y="1" width="3" height="1" fill="#a8a8a8"/><rect x="882" y="3" width="3" height="1" fill="#a8a8a8"/><rect x="882" y="5" width="3" height="1" fill="#a8a8a8"/><rect x="882" y="7" width="3" height="1" fill="#a8a8a8"/><rect x="882" y="9" width="3" height="1" fill="#a8a8a8"/><rect x="882" y="11" width="3" height="1" fill="#a8a8a8"/><rect x="882" y="13" width="3" height="1" fill="#a8a8a8"/><rect x="882" y="15" width="3" height="1" fill="#a8a8a8"/><rect x="882" y="17" width="3" height="1" fill="#a8a8a8"/><rect x="1028" y="0" width="1" height="19" fill="#a0a0a0"/><rect x="1029" y="0" width="1" height="19" fill="#fff"/><rect x="1030" y="0" width="24" height="19" fill="url(#chk)"/><rect x="1030" y="19" width="24" height="1" fill="#fff"/><rect x="1139" y="0" width="1" height="19" fill="#a0a0a0"/><rect x="1140" y="0" width="1" height="19" fill="#fff"/><g shape-rendering="geometricPrecision"><path d="M1606.800 9.200l-4.800 4.600" stroke="#2a5fd0" stroke-width="2.400"/><path d="M1606.800 9.200l-4.800 4.600" stroke="#88a8f0" stroke-width=".8" stroke-dasharray=".7 .7"/><circle cx="1609.800" cy="6.300" r="3.900" fill="#f4f4ff" stroke="#2a5fd0" stroke-width="1.200"/></g><g shape-rendering="geometricPrecision"><path d="M1627 10.500q0-4.500 6-4.500t6 4.500q0 4.300-6.500 4.300l-3 2.700.4-3.200q-2.900-1.200-2.900-3.800z" fill="#e4e4ee" stroke="#a8a8a8" stroke-width=".9"/><circle cx="1640.400" cy="6.300" r="8.300" fill="url(#gr)"/><path d="M1637.300 4.800l2.800-2.300h1.300v7.800h1.700v1h-5.200v-1h1.800v-6l-1.900 1.400z" fill="#fff"/></g></svg><div class="t" style="left:893px;top:6px;color:#4a4a4a">M1</div><div class="t" style="left:921px;top:6px;color:#4a4a4a">M5</div><div class="t" style="left:947px;top:6px;color:#4a4a4a">M15</div><div class="t" style="left:975px;top:6px;color:#4a4a4a">M30</div><div class="t" style="left:1006px;top:6px;color:#4a4a4a">H1</div><div class="t" style="left:1033px;top:6px;color:#4a4a4a">H4</div><div class="t" style="left:1062px;top:6px;color:#4a4a4a">D1</div><div class="t" style="left:1089.5px;top:6px;color:#4a4a4a">W1</div><div class="t" style="left:1116px;top:6px;color:#4a4a4a">MN</div></div>
</body></html>
